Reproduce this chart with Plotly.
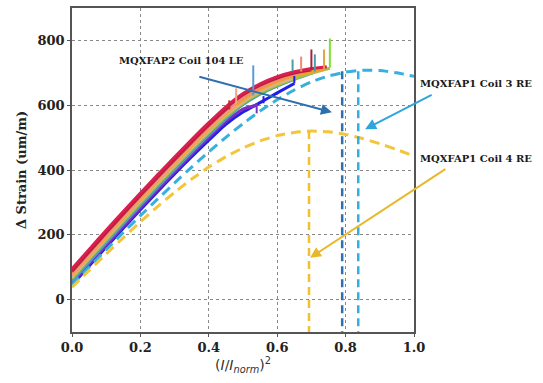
import plotly.graph_objects as go

# ---------------- data ----------------
# solid ramp curves (drawn bottom first)
blue_x = [0, 0.05, 0.1, 0.15, 0.2, 0.25, 0.3, 0.35, 0.4, 0.45, 0.5, 0.55, 0.6, 0.65]
blue_y = [45, 104, 162, 220, 277, 333, 388, 441, 492, 541, 579, 608, 638, 667]
purple_x = [0, 0.05, 0.1, 0.15, 0.2, 0.25, 0.3, 0.35, 0.4, 0.45, 0.5, 0.54]
purple_y = [50, 110, 168, 226, 283, 339, 394, 448, 500, 550, 588, 600]
ltblue_x = [0, 0.05, 0.1, 0.15, 0.2, 0.25, 0.3, 0.35, 0.4, 0.45, 0.5, 0.53]
ltblue_y = [57, 117, 176, 234, 291, 347, 402, 456, 508, 558, 604, 628]
teal_x = [0, 0.05, 0.1, 0.15, 0.2, 0.25, 0.3, 0.35, 0.4, 0.45, 0.5, 0.55, 0.6, 0.65, 0.7, 0.71]
teal_y = [61, 121, 180, 238, 295, 351, 406, 460, 512, 561, 602, 634, 659, 680, 698, 702]
green_x = [0, 0.05, 0.1, 0.15, 0.2, 0.25, 0.3, 0.35, 0.4, 0.45, 0.5, 0.55, 0.6, 0.65, 0.7, 0.754]
green_y = [65, 125, 184, 242, 299, 355, 410, 464, 516, 565, 606, 638, 662, 682, 699, 714]
tan_x = [0, 0.05, 0.1, 0.15, 0.2, 0.25, 0.3, 0.35, 0.4, 0.45, 0.5, 0.55, 0.6, 0.645]
tan_y = [70, 130, 189, 247, 304, 360, 415, 469, 521, 570, 611, 643, 667, 682]
orange_x = [0, 0.05, 0.1, 0.15, 0.2, 0.25, 0.3, 0.35, 0.4, 0.45, 0.5, 0.55, 0.6, 0.65, 0.7, 0.737]
orange_y = [75, 135, 194, 252, 309, 365, 420, 474, 526, 575, 617, 649, 673, 691, 703, 710]
ltsalmon_x = [0, 0.05, 0.1, 0.15, 0.2, 0.25, 0.3, 0.35, 0.4, 0.45, 0.48]
ltsalmon_y = [79, 139, 198, 256, 313, 369, 424, 478, 530, 579, 602]
salmon_x = [0, 0.05, 0.1, 0.15, 0.2, 0.25, 0.3, 0.35, 0.4, 0.45, 0.5, 0.55, 0.6, 0.65, 0.67]
salmon_y = [83, 143, 202, 260, 317, 373, 428, 482, 534, 583, 624, 655, 679, 696, 702]
brown_x = [0, 0.05, 0.1, 0.15, 0.2, 0.25, 0.3, 0.35, 0.4, 0.45, 0.46]
brown_y = [87, 147, 206, 264, 321, 377, 432, 486, 538, 587, 596]
darkred_x = [0, 0.05, 0.1, 0.15, 0.2, 0.25, 0.3, 0.35, 0.4, 0.45, 0.5, 0.55, 0.6, 0.65, 0.7]
darkred_y = [91, 151, 210, 268, 325, 381, 436, 490, 542, 591, 632, 662, 684, 699, 709]
red_x = [0, 0.05, 0.1, 0.15, 0.2, 0.25, 0.3, 0.35, 0.4, 0.45, 0.5, 0.55, 0.6, 0.65, 0.7, 0.745]
red_y = [95, 155, 214, 272, 329, 385, 440, 494, 546, 595, 636, 666, 688, 703, 713, 719]

# quench spikes
spike_x = [0.46, 0.48, 0.53, 0.54, 0.56, 0.645, 0.65, 0.67, 0.70, 0.71, 0.737, 0.754]
spike_lo = [587, 604, 630, 575, 606, 705, 667, 704, 711, 704, 712, 716]
spike_hi = [615, 652, 723, 606, 628, 741, 690, 750, 772, 757, 772, 806]
spike_col = ["#c0283c", "#f4a582", "#5b9bd5", "#7a2fc0", "#1f1fe8", "#4a9ea8",
             "#1f1fe8", "#f08a70", "#a8203f", "#4a9ea8", "#e8a040", "#7fe030"]

# dashed model curves
cyan_x = [0, 0.05, 0.1, 0.15, 0.2, 0.25, 0.3, 0.35, 0.4, 0.45, 0.5, 0.55, 0.6, 0.65,
          0.7, 0.75, 0.8, 0.85, 0.9, 0.95, 1.0]
cyan_y = [45, 100, 154, 207, 259, 310, 360, 409, 456, 501, 543, 582, 617, 647,
          672, 690, 702, 708, 707, 700, 689]
yellow_x = [0, 0.05, 0.1, 0.15, 0.2, 0.25, 0.3, 0.35, 0.4, 0.45, 0.5, 0.55, 0.6, 0.65,
            0.7, 0.75, 0.8, 0.85, 0.9, 0.95, 1.0]
yellow_y = [38, 90, 141, 191, 240, 287, 331, 372, 409, 441, 468, 490, 506, 516,
            520, 518, 510, 497, 481, 463, 443]

# vertical dashed markers
vline_x = [0.693, 0.79, 0.837]
vline_top = [520, 705, 705]
vline_bottom = -100
vline_col = ["#f0c030", "#2e6fb0", "#33aee0"]

# annotation labels (text centre in data units) and arrows
labels = ["MQXFAP2 Coil 104 LE", "MQXFAP1 Coil 3 RE", "MQXFAP1 Coil 4 RE"]
label_x = [0.32, 1.181, 1.181]
label_y = [738, 668, 434]
label_color = ["#2e6fb0", "#2ea6dc", "#e8b828"]
arrow_tail_x = [0.368, 1.056, 1.096]
arrow_tail_y = [689, 634, 406]
arrow_head_x = [0.760, 0.857, 0.696]
arrow_head_y = [578, 526, 129]

x_ticks = [0.0, 0.2, 0.4, 0.6, 0.8, 1.0]
y_ticks = [0, 200, 400, 600, 800]
X_RANGE = [0, 1.0]
Y_RANGE = [-100, 900]

# ---------------- figure ----------------
fig = go.Figure()

solid = [
    (blue_x, blue_y, "#1f1fe8"),
    (purple_x, purple_y, "#7a2fc0"),
    (ltblue_x, ltblue_y, "#5b9bd5"),
    (teal_x, teal_y, "#4a9ea8"),
    (green_x, green_y, "#a8c040"),
    (tan_x, tan_y, "#d9b38c"),
    (orange_x, orange_y, "#f0a030"),
    (ltsalmon_x, ltsalmon_y, "#f4a582"),
    (salmon_x, salmon_y, "#f08a70"),
    (brown_x, brown_y, "#c0283c"),
    (darkred_x, darkred_y, "#b0203f"),
    (red_x, red_y, "#dc1e4e"),
]
for xs, ys, c in solid:
    fig.add_trace(go.Scatter(x=xs, y=ys, mode="lines",
                             line=dict(color=c, width=3, shape="spline", smoothing=0.5),
                             showlegend=False, hoverinfo="skip"))

for sx, lo, hi, c in zip(spike_x, spike_lo, spike_hi, spike_col):
    fig.add_trace(go.Scatter(x=[sx, sx], y=[lo, hi], mode="lines", line=dict(color=c, width=2),
                             showlegend=False, hoverinfo="skip"))

fig.add_trace(go.Scatter(x=cyan_x, y=cyan_y, mode="lines",
                         line=dict(color="#38b0de", width=3, dash="10px,6px", shape="spline", smoothing=0.5),
                         showlegend=False, hoverinfo="skip"))
fig.add_trace(go.Scatter(x=yellow_x, y=yellow_y, mode="lines",
                         line=dict(color="#f2c53a", width=3, dash="10px,6px", shape="spline", smoothing=0.5),
                         showlegend=False, hoverinfo="skip"))

for vx, top, c in zip(vline_x, vline_top, vline_col):
    fig.add_trace(go.Scatter(x=[vx, vx], y=[top, vline_bottom], mode="lines",
                             line=dict(color=c, width=2.5, dash="8px,5px"),
                             showlegend=False, hoverinfo="skip"))


def to_paper_x(v):
    return (v - X_RANGE[0]) / (X_RANGE[1] - X_RANGE[0])


def to_paper_y(v):
    return (v - Y_RANGE[0]) / (Y_RANGE[1] - Y_RANGE[0])


label_font = dict(family="DejaVu Serif", size=10, color="#1a1a1a")
for lab, tx, ty in zip(labels, label_x, label_y):
    fig.add_annotation(x=to_paper_x(tx), y=to_paper_y(ty), xref="paper", yref="paper",
                       text="<b>" + lab + "</b>", showarrow=False, font=label_font,
                       xanchor="center", yanchor="middle")
for hx, hy, tx, ty, c in zip(arrow_head_x, arrow_head_y, arrow_tail_x, arrow_tail_y, label_color):
    fig.add_annotation(x=hx, y=hy, ax=tx, ay=ty, xref="x", yref="y", axref="x", ayref="y",
                       text="", showarrow=True, arrowhead=2, arrowsize=1.1, arrowwidth=2,
                       arrowcolor=c)

tick_font = dict(family="DejaVu Serif", size=13, color="#222")
fig.update_layout(
    width=543, height=383,
    margin=dict(l=72, r=129, t=6, b=51),
    paper_bgcolor="white", plot_bgcolor="white",
    xaxis=dict(range=X_RANGE, tickvals=x_ticks, ticktext=["<b>%.1f</b>" % v for v in x_ticks],
               tickfont=tick_font, showgrid=True, gridcolor="#888", griddash="dot", gridwidth=1,
               showline=True, linecolor="#555", linewidth=1.5, mirror=True,
               ticks="outside", ticklen=3, tickcolor="#555", zeroline=False,
               title=dict(text="(<i>I</i>/<i>I<sub>norm</sub></i>)<sup>2</sup>",
                          font=dict(family="DejaVu Sans", size=14, color="#333"), standoff=3)),
    yaxis=dict(range=Y_RANGE, tickvals=y_ticks, ticktext=["<b>%d</b>" % v for v in y_ticks],
               tickfont=tick_font, showgrid=True, gridcolor="#888", griddash="dot", gridwidth=1,
               showline=True, linecolor="#555", linewidth=1.5, mirror=True,
               ticks="outside", ticklen=3, tickcolor="#555", zeroline=False,
               title=dict(text="<b>Δ Strain (um/m)</b>",
                          font=dict(family="DejaVu Serif", size=13, color="#222"), standoff=8)),
)

fig.write_html("out.html")
